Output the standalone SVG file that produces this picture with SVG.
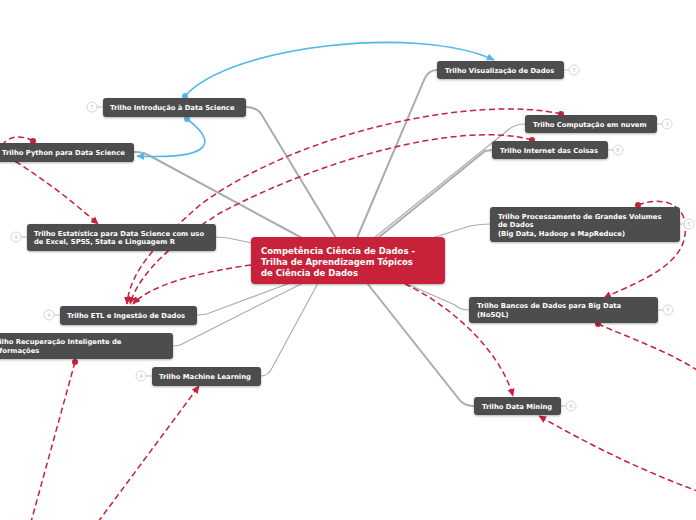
<svg xmlns="http://www.w3.org/2000/svg" width="696" height="520" viewBox="0 0 696 520">
<style>
.bg{fill:#ffffff}
.node rect{fill:#4e4e4e;filter:url(#sh)}
.node text{fill:#ffffff;font-family:"DejaVu Sans","Verdana",sans-serif;font-weight:bold;font-size:6.8px}
.center rect{fill:#c8203a;filter:url(#sh)}
.center text{fill:#ffffff;font-family:"DejaVu Sans","Verdana",sans-serif;font-weight:bold;font-size:8.5px}
.badge circle{fill:#ffffff;stroke:#d6d6d6;stroke-width:1}
.badge line{stroke:#bdbdbd;stroke-width:1}
.badge text{fill:#c0c0c0;font-family:"DejaVu Sans",sans-serif;font-size:5.5px;text-anchor:middle}
.gl{fill:none;stroke:#ababab;stroke-linecap:round;stroke-linejoin:round}
.thick{stroke-width:2}
.thin{stroke-width:1.1}
.red{fill:none;stroke:#c8203a;stroke-width:1.5;stroke-dasharray:6 3.5}
.blue{fill:none;stroke:#52b8ea;stroke-width:1.6}
</style>
<defs>
<filter id="sh" x="-10%" y="-20%" width="120%" height="160%">
<feDropShadow dx="0" dy="1" stdDeviation="0.8" flood-color="#000" flood-opacity="0.3"/>
</filter>
<marker id="ar" viewBox="0 0 10 10" refX="9" refY="5" markerWidth="8" markerHeight="8" markerUnits="userSpaceOnUse" orient="auto">
<path d="M0,0.5 L10,5 L0,9.5 z" fill="#c8203a"/>
</marker>
<marker id="rd" viewBox="0 0 10 10" refX="5" refY="5" markerWidth="6" markerHeight="6" markerUnits="userSpaceOnUse">
<circle cx="5" cy="5" r="5" fill="#c8203a"/>
</marker>
<marker id="ab" viewBox="0 0 10 10" refX="9" refY="5" markerWidth="8" markerHeight="8" markerUnits="userSpaceOnUse" orient="auto">
<path d="M0,0.5 L10,5 L0,9.5 z" fill="#52b8ea"/>
</marker>
<marker id="bd" viewBox="0 0 10 10" refX="5" refY="5" markerWidth="6" markerHeight="6" markerUnits="userSpaceOnUse">
<circle cx="5" cy="5" r="5" fill="#52b8ea"/>
</marker>
</defs>
<rect class="bg" x="0" y="0" width="696" height="520"/>

<g id="connectors">
<path class="gl thick" d="M246,107 Q258,107 263,117 L336,238"/>
<path class="gl thick" d="M437,70 Q428,70 424,80 L357,238"/>
<path class="gl thick" d="M134,152 Q145,152 152,157 L302,238"/>
<path class="gl thin" d="M525,124 Q515,124 508,130 L374,238"/>
<path class="gl thick" d="M492,150 L485,151 L378,238"/>
<path class="gl thin" d="M490,224 Q480,224 470,226 L432,238"/>
<path class="gl thin" d="M216,237 L228,238 L252,243"/>
<path class="gl thin" d="M197,315 Q206,315 212,312 L290,283"/>
<path class="gl thin" d="M173,346 Q180,346 186,342 L303,283"/>
<path class="gl thin" d="M261,376 Q268,376 272,368 L318,283"/>
<path class="gl thick" d="M474,406 Q463,406 458,398 L367,283"/>
<path class="gl thin" d="M469,310 Q460,310 455,305 L405,283"/>

<path class="blue" d="M185,96 C230,45 420,25 494,60" marker-start="url(#bd)" marker-end="url(#ab)"/>
<path class="blue" d="M187,119 C215,140 218,160 137,156" marker-start="url(#bd)" marker-end="url(#ab)"/>

<path class="red" d="M33,141 C10,128 -15,150 18,163 Q60,190 98,224" marker-start="url(#rd)" marker-end="url(#ar)"/>
<path class="red" d="M561,114 C480,95 300,130 200,205 C160,240 130,270 127,304" marker-start="url(#rd)" marker-end="url(#ar)"/>
<path class="red" d="M532,140 C460,120 320,160 220,213 C180,238 140,270 130,304" marker-start="url(#rd)" marker-end="url(#ar)"/>
<path class="red" d="M251,265 C200,272 150,285 133,304" marker-end="url(#ar)"/>
<path class="red" d="M638,205 C665,195 692,205 684,240 C676,270 630,285 604,298" marker-start="url(#rd)" marker-end="url(#ar)"/>
<path class="red" d="M598,324 C630,338 670,352 700,372" marker-start="url(#rd)"/>
<path class="red" d="M700,492 C640,470 590,445 539,416" marker-end="url(#ar)"/>
<path class="red" d="M405,284 C450,305 500,350 513,396" marker-end="url(#ar)"/>
<path class="red" d="M75,362 L31,522" marker-start="url(#rd)"/>
<path class="red" d="M98,522 L199,386" marker-end="url(#ar)"/>
</g>

<g id="center" class="center">
<rect x="251" y="237" width="194" height="47" rx="4"/>
<text x="261" y="254">Competência Ciência de Dados -</text>
<text x="261" y="265">Trilha de Aprendizagem Tópicos</text>
<text x="261" y="276">de Ciência de Dados</text>
</g>

<g id="n-intro">
<g class="badge"><line x1="97" y1="107" x2="103" y2="107"/><circle cx="92" cy="107" r="5"/><text x="92" y="109">7</text></g>
<g class="node"><rect x="103" y="98" width="143" height="19" rx="3"/><text x="110" y="110">Trilho Introdução à Data Science</text></g>
</g>

<g id="n-visual">
<g class="badge"><line x1="564" y1="70" x2="569" y2="70"/><circle cx="574" cy="70" r="5"/><text x="574" y="72">7</text></g>
<g class="node"><rect x="437" y="61" width="127" height="18" rx="3"/><text x="445" y="72.5">Trilho Visualização de Dados</text></g>
</g>

<g id="n-python">
<g class="node"><rect x="-6" y="143" width="140" height="19" rx="3"/><text x="2" y="155">Trilho Python para Data Science</text></g>
</g>

<g id="n-cloud">
<g class="badge"><line x1="657" y1="124" x2="662" y2="124"/><circle cx="667" cy="124" r="5"/><text x="667" y="126">3</text></g>
<g class="node"><rect x="525" y="115" width="132" height="18" rx="3"/><text x="533" y="126.5">Trilho Computação em nuvem</text></g>
</g>

<g id="n-iot">
<g class="badge"><line x1="608" y1="150" x2="613" y2="150"/><circle cx="618" cy="150" r="5"/><text x="618" y="152">6</text></g>
<g class="node"><rect x="492" y="141" width="116" height="18" rx="3"/><text x="500" y="152.5">Trilho Internet das Coisas</text></g>
</g>

<g id="n-estat">
<g class="badge"><line x1="21" y1="237" x2="27" y2="237"/><circle cx="16" cy="237" r="5"/><text x="16" y="239">9</text></g>
<g class="node"><rect x="27" y="224" width="189" height="27" rx="3"/><text x="34" y="235.5">Trilho Estatística para Data Science com uso</text><text x="34" y="244">de Excel, SPSS, Stata e Linguagem R</text></g>
</g>

<g id="n-bigdata">
<g class="badge"><line x1="680" y1="224" x2="684" y2="224"/><circle cx="689" cy="224" r="5"/><text x="689" y="226">5</text></g>
<g class="node"><rect x="490" y="207" width="190" height="35" rx="3"/><text x="498" y="219">Trilho Processamento de Grandes Volumes</text><text x="498" y="227">de Dados</text><text x="498" y="236">(Big Data, Hadoop e MapReduce)</text></g>
</g>

<g id="n-nosql">
<g class="badge"><line x1="658" y1="310" x2="663" y2="310"/><circle cx="668" cy="310" r="5"/><text x="668" y="312">7</text></g>
<g class="node"><rect x="469" y="297" width="189" height="26" rx="3"/><text x="477" y="308">Trilho Bancos de Dados para Big Data</text><text x="477" y="317">(NoSQL)</text></g>
</g>

<g id="n-etl">
<g class="badge"><line x1="54" y1="315" x2="60" y2="315"/><circle cx="49" cy="315" r="5"/><text x="49" y="317">4</text></g>
<g class="node"><rect x="60" y="306" width="137" height="19" rx="3"/><text x="67" y="318">Trilho ETL e Ingestão de Dados</text></g>
</g>

<g id="n-recup">
<g class="node"><rect x="-6" y="333" width="179" height="26" rx="3"/><text x="-8" y="344">Trilho Recuperação Inteligente de</text><text x="-8" y="353">Informações</text></g>
</g>

<g id="n-ml">
<g class="badge"><line x1="146" y1="376" x2="152" y2="376"/><circle cx="141" cy="376" r="5"/><text x="141" y="378">4</text></g>
<g class="node"><rect x="152" y="367" width="109" height="19" rx="3"/><text x="159" y="378.5">Trilho Machine Learning</text></g>
</g>

<g id="n-mining">
<g class="badge"><line x1="561" y1="406" x2="566" y2="406"/><circle cx="571" cy="406" r="5"/><text x="571" y="408">6</text></g>
<g class="node"><rect x="474" y="397" width="87" height="18" rx="3"/><text x="482" y="408.5">Trilho Data Mining</text></g>
</g>
</svg>
